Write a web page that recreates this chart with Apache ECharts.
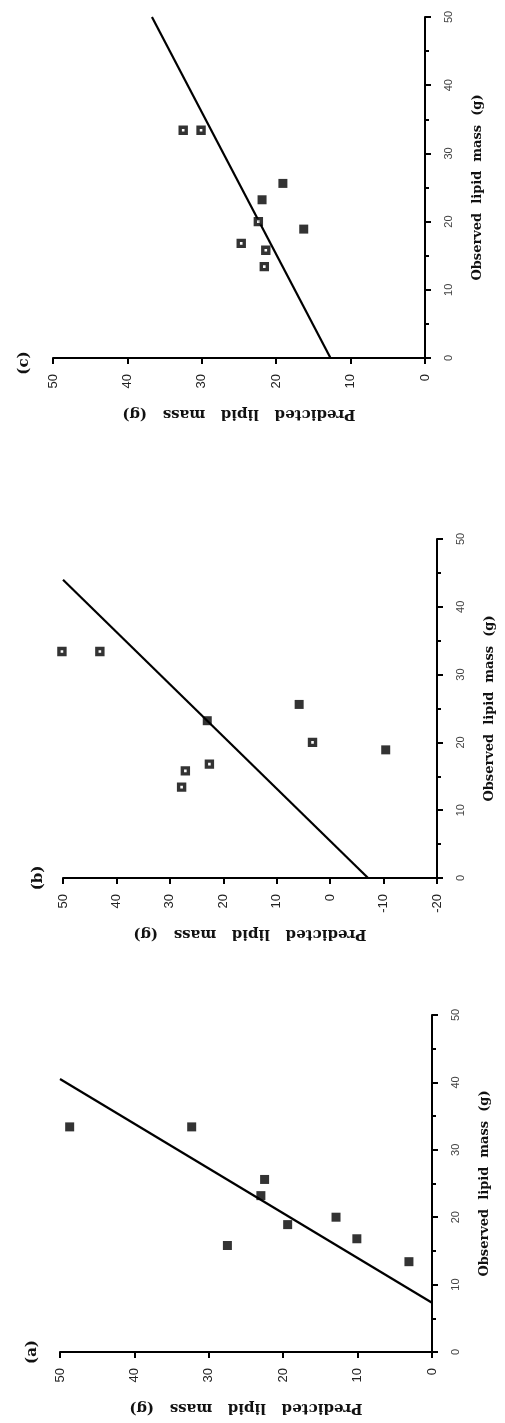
<!DOCTYPE html>
<html>
<head>
<meta charset="utf-8">
<script src="https://cdn.jsdelivr.net/npm/echarts@6/dist/echarts.min.js"></script>
<style>
html,body{margin:0;padding:0;background:#fff;}
#chart{width:505px;height:1423px;}
</style>
</head>
<body>
<div id="chart"></div>
<script>
// Observed lipid mass (g) for the nine animals (shared by all panels)
var observed = [33.4, 33.4, 25.6, 23.2, 20.0, 18.9, 16.8, 15.8, 13.4];
// Predicted lipid mass (g) per panel
var predA = [48.7, 32.3, 22.5, 23.0, 12.9, 19.4, 10.1, 27.5, 3.1];
var predB = [50.2, 43.1, 5.8, 23.0, 3.3, -10.4, 22.6, 27.1, 27.8];
var predC = [32.5, 30.1, 19.1, 21.9, 22.4, 16.3, 24.7, 21.4, 21.6];
// marker style: 1 = open square, 0 = filled square
var openA = [0, 0, 0, 0, 0, 0, 0, 0, 0];
var openB = [1, 1, 0, 0, 1, 0, 1, 1, 1];
var openC = [1, 1, 0, 0, 1, 0, 1, 1, 1];
// regression lines [predicted, observed]
var lineA = [[0, 7.3], [50, 40.5]];
var lineB = [[-7.1, 0], [50, 44.0]];
var lineC = [[12.7, 0], [36.7, 50]];
// axis settings
var panelLabels = ['(c)', '(b)', '(a)'];
var predMin = [0, -20, 0];
var axisMax = 50;
var tickStep = 10;
var xName = 'Predicted   lipid   mass   (g)';
var yName = 'Observed  lipid  mass  (g)';

var panels = [
  {pred: predC, open: openC, line: lineC},
  {pred: predB, open: openB, line: lineB},
  {pred: predA, open: openA, line: lineA}
];
var grids = [
  {left: 53, right: 80, top: 17, bottom: 1065},
  {left: 63, right: 68, top: 539, bottom: 545},
  {left: 60, right: 73, top: 1015, bottom: 71}
];
var labelPos = [[24, 363], [38, 878], [32, 1352]];

var xAxes = [], yAxes = [], series = [], graphics = [];
panels.forEach(function (p, i) {
  xAxes.push({
    gridIndex: i, type: 'value', inverse: true, min: predMin[i], max: axisMax, interval: tickStep,
    position: 'bottom',
    axisLine: {onZero: false, lineStyle: {color: '#000', width: 2}},
    axisTick: {show: true, length: 6, lineStyle: {color: '#000', width: 2}},
    axisLabel: {rotate: 90, fontSize: 13, color: '#222', margin: 16, fontFamily: 'Liberation Sans'},
    splitLine: {show: false},
    name: xName, nameLocation: 'middle', nameGap: 48, nameRotate: 180,
    nameTextStyle: {fontSize: 15, fontWeight: 'bold', color: '#111', fontFamily: 'DejaVu Serif'}
  });
  yAxes.push({
    gridIndex: i, type: 'value', min: 0, max: axisMax, interval: tickStep,
    position: 'right',
    axisLine: {onZero: false, lineStyle: {color: '#000', width: 2}},
    axisTick: {show: true, length: 6, lineStyle: {color: '#000', width: 2}},
    minorTick: {show: true, splitNumber: 2, length: 4, lineStyle: {color: '#000', width: 2}},
    axisLabel: {rotate: 90, fontSize: 11, color: '#444', margin: 18, fontFamily: 'Liberation Sans'},
    splitLine: {show: false},
    name: yName, nameLocation: 'middle', nameGap: 46, nameRotate: 90,
    nameTextStyle: {fontSize: 13, fontWeight: 'bold', color: '#111', fontFamily: 'DejaVu Serif'}
  });
  var filled = [], open = [];
  p.pred.forEach(function (v, k) {
    (p.open[k] ? open : filled).push([v, observed[k]]);
  });
  series.push({
    type: 'line', xAxisIndex: i, yAxisIndex: i, data: p.line, symbol: 'none',
    lineStyle: {color: '#000', width: 2.2}, silent: true, z: 2
  });
  series.push({
    type: 'scatter', xAxisIndex: i, yAxisIndex: i, data: filled, symbol: 'rect', symbolSize: 9,
    itemStyle: {color: '#000'}, clip: false, z: 3
  });
  series.push({
    type: 'scatter', xAxisIndex: i, yAxisIndex: i, data: open, symbol: 'rect', symbolSize: 6,
    itemStyle: {color: '#fff', borderColor: '#000', borderWidth: 3.4}, clip: false, z: 3
  });
  graphics.push({
    type: 'text', x: labelPos[i][0], y: labelPos[i][1], rotation: Math.PI / 2,
    style: {text: panelLabels[i], font: 'bold 15px "DejaVu Serif"', fill: '#111',
      textAlign: 'center', textVerticalAlign: 'middle'}
  });
});

var chart = echarts.init(document.getElementById('chart'), null, {renderer: 'canvas'});
chart.setOption({
  animation: false,
  backgroundColor: '#fff',
  grid: grids,
  xAxis: xAxes,
  yAxis: yAxes,
  series: series,
  graphic: graphics
});
</script>
</body>
</html>
